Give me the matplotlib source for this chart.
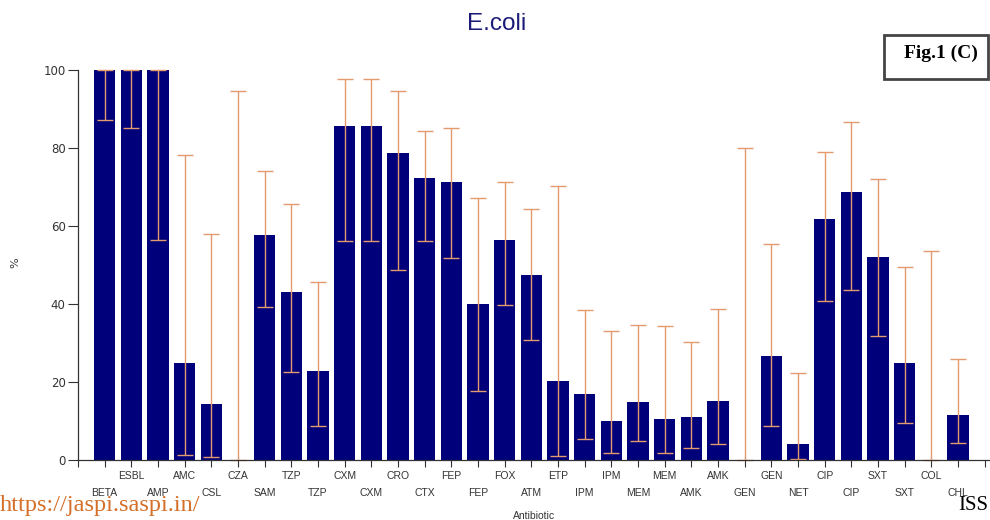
import numpy as np
import matplotlib
matplotlib.use("Agg")
import matplotlib.pyplot as plt
from matplotlib.patches import Rectangle

# resistance (%) per antibiotic with 95% CI bounds
antibiotics = ['BETA', 'ESBL', 'AMP', 'AMC', 'CSL', 'CZA', 'SAM', 'TZP', 'TZP',
               'CXM', 'CXM', 'CRO', 'CTX', 'FEP', 'FEP', 'FOX', 'ATM', 'ETP',
               'IPM', 'IPM', 'MEM', 'MEM', 'AMK', 'AMK', 'GEN', 'GEN', 'NET',
               'CIP', 'CIP', 'SXT', 'SXT', 'COL', 'CHL']
percent = [100, 100, 100, 25.0, 14.3, 0, 57.7, 43.0, 22.9,
           85.7, 85.7, 78.6, 72.3, 71.2, 40.0, 56.3, 47.4, 20.2,
           16.8, 9.9, 15.0, 10.5, 11.0, 15.2, 0, 26.7, 4.1,
           61.7, 68.6, 52.1, 25.0, 0, 11.5]
ci_low = [87.1, 85.1, 56.3, 1.3, 0.7, 0, 39.3, 22.6, 8.7,
          56.2, 56.2, 48.7, 56.2, 51.8, 17.6, 39.8, 30.8, 1.0,
          5.5, 1.8, 4.9, 1.8, 3.0, 4.0, 0, 8.7, 0.3,
          40.8, 43.5, 31.9, 9.6, 0, 4.3]
ci_high = [100, 100, 100, 78.2, 58.0, 94.5, 74.1, 65.6, 45.7,
           97.6, 97.6, 94.5, 84.4, 85.2, 67.3, 71.3, 64.4, 70.3,
           38.4, 33.0, 34.7, 34.4, 30.3, 38.8, 80.1, 55.4, 22.2,
           79.1, 86.6, 72.0, 49.6, 53.7, 25.8]

pos = np.arange(1, len(antibiotics) + 1)
vals = np.array(percent)
yerr = np.array([vals - np.array(ci_low), np.array(ci_high) - vals])

fig = plt.figure(figsize=(9.9, 5.2), dpi=100)
ax = fig.add_axes([78 / 990, 60 / 520, 912 / 990, 390 / 520])

ax.bar(pos, vals, width=0.8, color='#00007a', zorder=2)
eb = ax.errorbar(pos, vals, yerr=yerr, fmt='none', ecolor='#e39a6e',
                 elinewidth=1.0, capsize=5.5, capthick=1.0, zorder=3)
for art in eb.lines[1] + eb.lines[2]:
    art.set_clip_on(False)

ax.set_xlim(0, 34.2)
ax.set_ylim(0, 100)
ax.set_yticks([0, 20, 40, 60, 80, 100])
ax.set_xticks(np.arange(0, 35))
ax.set_xticklabels([])
ax.tick_params(axis='y', length=7, width=0.8, pad=2, labelsize=8.5,
               labelcolor='#333333', color='#333333')
ax.tick_params(axis='x', length=5, width=0.8, color='#333333')
for side in ['top', 'right']:
    ax.spines[side].set_visible(False)
for side in ['left', 'bottom']:
    ax.spines[side].set_color('#333333')
    ax.spines[side].set_linewidth(0.9)
    ax.spines[side].set_zorder(4)

# staggered category labels: even positions on the upper row
trans = ax.get_xaxis_transform()
for p, name in zip(pos, antibiotics):
    yy = -0.041 if p % 2 == 0 else -0.085
    ax.text(p, yy, name, transform=trans, ha='center', va='center',
            fontsize=7.5, color='#333333', family='Liberation Sans')

fig.text(534 / 990, 1 - 516 / 520, 'Antibiotic', ha='center', va='center',
         fontsize=7.5, color='#333333', family='Liberation Sans')
fig.text(15 / 990, 1 - 263 / 520, '%', ha='center', va='center',
         rotation=90, fontsize=8, color='#333333')

fig.text(497 / 990, 1 - 24 / 520, 'E.coli', ha='center', va='center',
         fontsize=17.5, color='#1c1c78', family='Liberation Sans')

# figure tag box
fig.patches.append(Rectangle((884 / 990, 1 - 79 / 520), 104 / 990, 44 / 520,
                             transform=fig.transFigure, fill=False,
                             edgecolor='#444444', linewidth=2))
fig.text(941 / 990, 1 - 53 / 520, 'Fig.1 (C)', ha='center', va='center',
         fontsize=14, fontweight='bold', family='Liberation Serif')

fig.text(0, 1 - 505 / 520, 'https://jaspi.saspi.in/', ha='left', va='center',
         fontsize=17.5, color='#d4702a', family='Liberation Serif')
fig.text(958 / 990, 1 - 505 / 520, 'ISS', ha='left', va='center',
         fontsize=15, color='black', family='Liberation Serif')

fig.savefig('out.png', dpi=100, facecolor='white')
